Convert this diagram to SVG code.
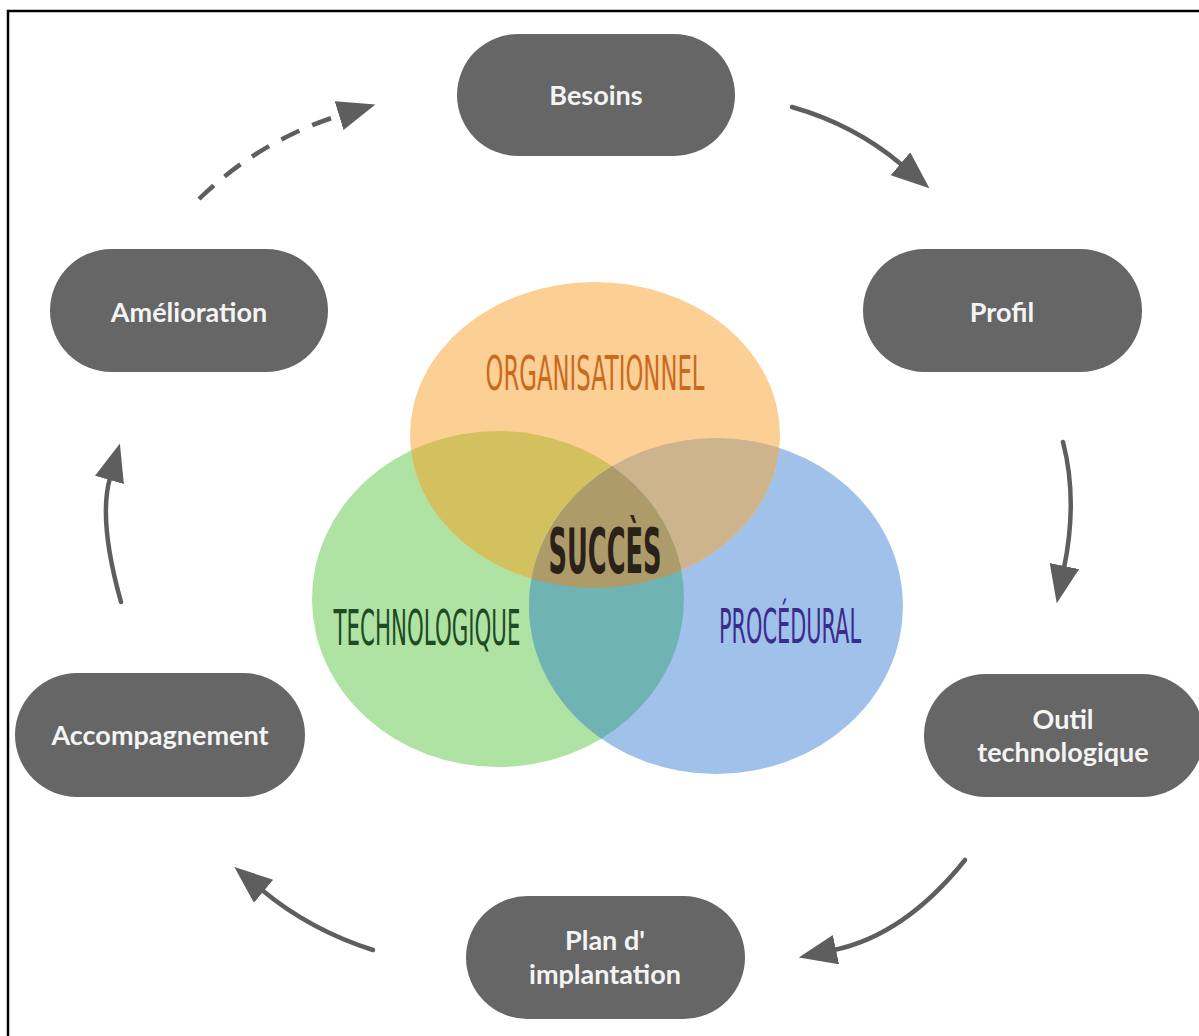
<svg xmlns="http://www.w3.org/2000/svg" width="1199" height="1036" viewBox="0 0 1199 1036">
  <style>
    .node rect { fill: #666666; }
    .node text { fill: #f4f4f4; font-family: Lato, "Open Sans", "Liberation Sans", sans-serif; font-weight: bold; font-size: 27px; text-anchor: middle; }
    .conn path { fill: none; stroke: #5e5e5e; stroke-width: 4.5; stroke-linecap: round; }
    .conn .dash { stroke-dasharray: 20 14; stroke-linecap: butt; }
    .venn text { font-family: "Liberation Sans Narrow", "DejaVu Sans Condensed", "Liberation Sans", sans-serif; text-anchor: middle; }
  </style>
  <defs>
    <marker id="ah" markerUnits="userSpaceOnUse" markerWidth="42" markerHeight="32" refX="2" refY="15" orient="auto">
      <path d="M0,0 L38,15 L0,30 z" fill="#5e5e5e"/>
    </marker>
    <ellipse id="eO" cx="595" cy="435" rx="185" ry="153"/>
    <ellipse id="eG" cx="498" cy="599" rx="186" ry="168"/>
    <ellipse id="eB" cx="716" cy="606" rx="187" ry="168"/>
    <clipPath id="cpO"><use href="#eO"/></clipPath>
    <clipPath id="cpG"><use href="#eG"/></clipPath>
    <clipPath id="cpB"><use href="#eB"/></clipPath>
  </defs>

  <rect width="1199" height="1036" fill="#ffffff"/>
  <path d="M8,1036 V11 H1199" fill="none" stroke="#000" stroke-width="2.5"/>

  <g id="venn" class="venn">
    <use href="#eG" fill="#aee3a3"/>
    <use href="#eB" fill="#9fc1ea"/>
    <use href="#eO" fill="#fccf95"/>
    <use href="#eG" fill="#d3c15f" clip-path="url(#cpO)"/>
    <use href="#eB" fill="#cdb48d" clip-path="url(#cpO)"/>
    <use href="#eG" fill="#6fb3b3" clip-path="url(#cpB)"/>
    <g clip-path="url(#cpB)"><use href="#eG" fill="#ad9b69" clip-path="url(#cpO)"/></g>
    <text x="595" y="390" font-size="48" fill="#c96a1f" textLength="219" lengthAdjust="spacingAndGlyphs">ORGANISATIONNEL</text>
    <text x="605" y="573" font-size="62" font-weight="bold" fill="#2a2219" textLength="113" lengthAdjust="spacingAndGlyphs">SUCCÈS</text>
    <text x="427" y="645" font-size="50" fill="#1f4b22" textLength="187" lengthAdjust="spacingAndGlyphs">TECHNOLOGIQUE</text>
    <text x="790" y="643" font-size="48" fill="#3b2b8c" textLength="142" lengthAdjust="spacingAndGlyphs">PROCÉDURAL</text>
  </g>

  <g id="connectors" class="conn">
    <path d="M792,107 Q855,125 902,165" marker-end="url(#ah)"/>
    <path d="M1063,442 Q1078,500 1064,568" marker-end="url(#ah)"/>
    <path d="M965,860 Q905,935 834,950" marker-end="url(#ah)"/>
    <path d="M373,950 Q310,930 262,890" marker-end="url(#ah)"/>
    <path d="M121,602 Q98,520 110,478" marker-end="url(#ah)"/>
    <path class="dash" d="M199,199 Q260,140 341,115" marker-end="url(#ah)"/>
  </g>

  <g id="node-besoins" class="node">
    <rect x="457" y="34" width="278" height="122" rx="61"/>
    <text x="596" y="105">Besoins</text>
  </g>
  <g id="node-profil" class="node">
    <rect x="863" y="249" width="279" height="123" rx="61.5"/>
    <text x="1002" y="322">Profil</text>
  </g>
  <g id="node-outil" class="node">
    <rect x="924" y="674" width="280" height="123" rx="61.5"/>
    <text x="1063" y="729">Outil</text>
    <text x="1063" y="762">technologique</text>
  </g>
  <g id="node-plan" class="node">
    <rect x="466" y="896" width="279" height="123" rx="61.5"/>
    <text x="605" y="950">Plan d'</text>
    <text x="605" y="984">implantation</text>
  </g>
  <g id="node-accompagnement" class="node">
    <rect x="15" y="673" width="290" height="124" rx="62"/>
    <text x="160" y="745">Accompagnement</text>
  </g>
  <g id="node-amelioration" class="node">
    <rect x="50" y="249" width="278" height="123" rx="61.5"/>
    <text x="189" y="322">Amélioration</text>
  </g>
</svg>
